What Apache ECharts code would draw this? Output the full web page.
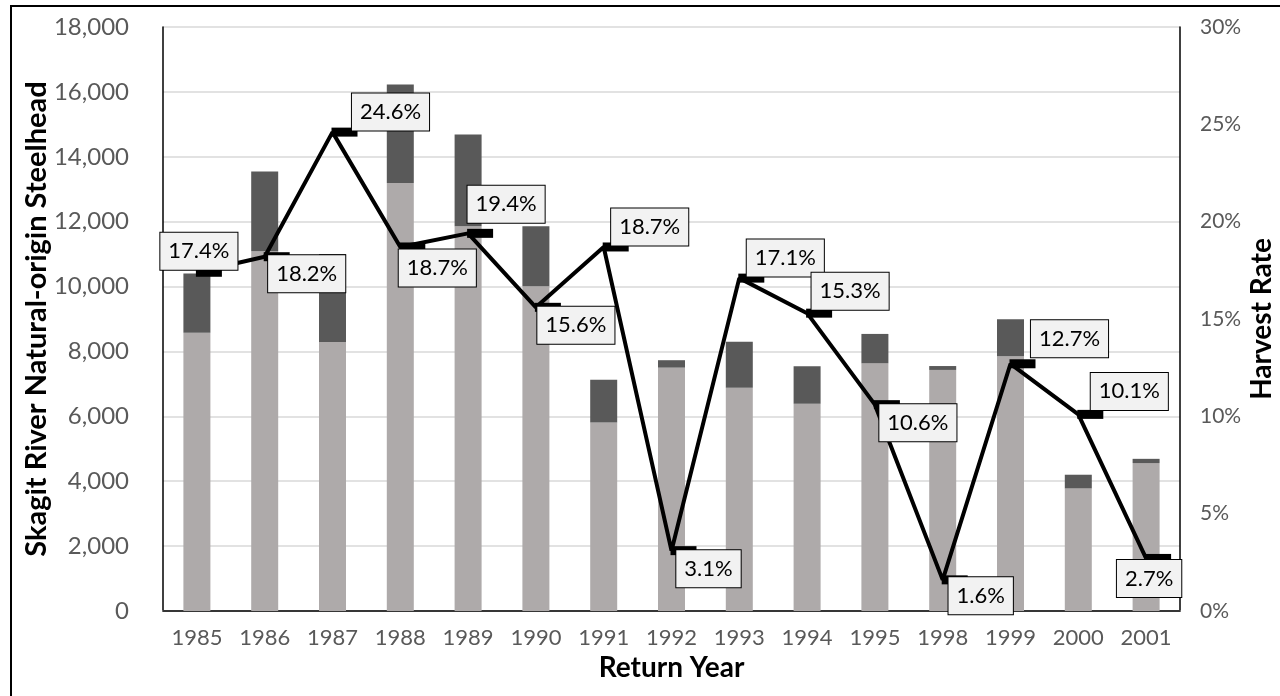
<!DOCTYPE html>
<html>
<head>
<meta charset="utf-8">
<script src="https://cdn.jsdelivr.net/npm/echarts@6/dist/echarts.min.js"></script>
<style>
  html, body { margin: 0; padding: 0; background: #fff; }
  #chart { width: 1280px; height: 696px; }
</style>
</head>
<body>
<div id="chart"></div>
<script>
const years = ['1985', '1986', '1987', '1988', '1989', '1990', '1991', '1992', '1993', '1994', '1995', '1998', '1999', '2000', '2001']
// natural-origin fish not harvested (light) and harvested (dark)
const escaped = [8580, 11090, 8290, 13190, 11860, 10010, 5810, 7500, 6880, 6390, 7640, 7430, 7850, 3780, 4560]
const harvested = [1820, 2460, 2710, 3040, 2830, 1850, 1320, 230, 1420, 1150, 900, 120, 1140, 420, 130]
const harvestRate = [17.4, 18.2, 24.6, 18.7, 19.4, 15.6, 18.7, 3.1, 17.1, 15.3, 10.6, 1.6, 12.7, 10.1, 2.7]
const countTicks = [0, 2000, 4000, 6000, 8000, 10000, 12000, 14000, 16000, 18000]
const rateTicks = [0, 5, 10, 15, 20, 25, 30]

const FONT = 'Lato'
// where each data label box sits, relative to its point
const labelShift = [
  [2, -21], [42, 17], [58, -20], [37, 21], [38, -29], [40, 18], [46, -20], [37, 18],
  [46, -20], [43, -22], [43, 18], [38, 16], [59, -25], [51, -23], [3, 20],
]
const markOff = 12

const chart = echarts.init(document.getElementById('chart'))

chart.setOption({
  animation: false,
  backgroundColor: '#fff',
  textStyle: { fontFamily: FONT },
  graphic: [{
    type: 'rect',
    shape: { x: 11, y: 6, width: 1300, height: 720 },
    style: { fill: 'none', stroke: '#000', lineWidth: 2 },
    silent: true,
  }],
  grid: {
    left: 163, right: 100, top: 27, bottom: 85,
    outerBoundsMode: 'none',
  },
  xAxis: [
    {
      type: 'category',
      data: years,
      name: 'Return Year',
      nameLocation: 'middle',
      nameGap: 42,
      nameTextStyle: { fontSize: 28, fontWeight: 'bold', color: '#000', fontFamily: FONT },
      axisLine: { lineStyle: { color: '#d9d9d9', width: 2 } },
      axisTick: { show: false },
      axisLabel: { fontSize: 22, color: '#595959', margin: 16 },
    },
    {
      // top frame of the plot area
      type: 'category',
      data: years,
      position: 'top',
      axisLine: { lineStyle: { color: '#000', width: 1.5 } },
      axisTick: { show: false },
      axisLabel: { show: false },
    },
  ],
  yAxis: [
    {
      type: 'value',
      min: countTicks[0],
      max: countTicks[countTicks.length - 1],
      interval: countTicks[1] - countTicks[0],
      name: 'Skagit River Natural-origin Steelhead',
      nameLocation: 'middle',
      nameGap: 112,
      nameMoveOverlap: false,
      nameTextStyle: { fontSize: 29, fontWeight: 'bold', color: '#000', fontFamily: FONT },
      axisLine: { show: true, lineStyle: { color: '#000', width: 1.5 } },
      axisTick: { show: false },
      axisLabel: {
        fontSize: 24, color: '#595959', margin: 34,
        formatter: (v) => v.toLocaleString('en-US'),
      },
      splitLine: { lineStyle: { color: '#d9d9d9', width: 1.5 } },
    },
    {
      type: 'value',
      min: rateTicks[0],
      max: rateTicks[rateTicks.length - 1],
      interval: rateTicks[1] - rateTicks[0],
      name: 'Harvest Rate',
      nameLocation: 'middle',
      nameGap: 68,
      nameMoveOverlap: false,
      nameRotate: 90,
      nameTextStyle: { fontSize: 28, fontWeight: 'bold', color: '#000', fontFamily: FONT },
      axisLine: { show: true, lineStyle: { color: '#000', width: 1.5 } },
      axisTick: { show: false },
      axisLabel: { fontSize: 21, color: '#595959', margin: 20, formatter: '{value}%' },
      splitLine: { show: false },
    },
  ],
  series: [
    {
      type: 'bar',
      stack: 'fish',
      data: escaped,
      barWidth: 27,
      itemStyle: { color: '#AEAAAA' },
    },
    {
      type: 'bar',
      stack: 'fish',
      data: harvested,
      barWidth: 27,
      itemStyle: { color: '#595959' },
    },
    {
      type: 'line',
      yAxisIndex: 1,
      data: harvestRate.map((v, i) => ({
        value: v,
        label: { offset: [labelShift[i][0] - markOff, labelShift[i][1]] },
      })),
      lineStyle: { color: '#000', width: 4 },
      symbol: 'rect',
      symbolSize: [26, 9],
      symbolOffset: [markOff, 0],
      itemStyle: { color: '#000' },
      z: 5,
      label: {
        show: true,
        position: 'inside',
        formatter: (p) => p.value.toFixed(1) + '%',
        fontSize: 22,
        lineHeight: 24,
        color: '#000',
        fontFamily: FONT,
        backgroundColor: '#F2F2F2',
        borderColor: '#000',
        borderWidth: 1,
        padding: [7, 8, 6, 8],
      },
    },
  ],
})
</script>
</body>
</html>
